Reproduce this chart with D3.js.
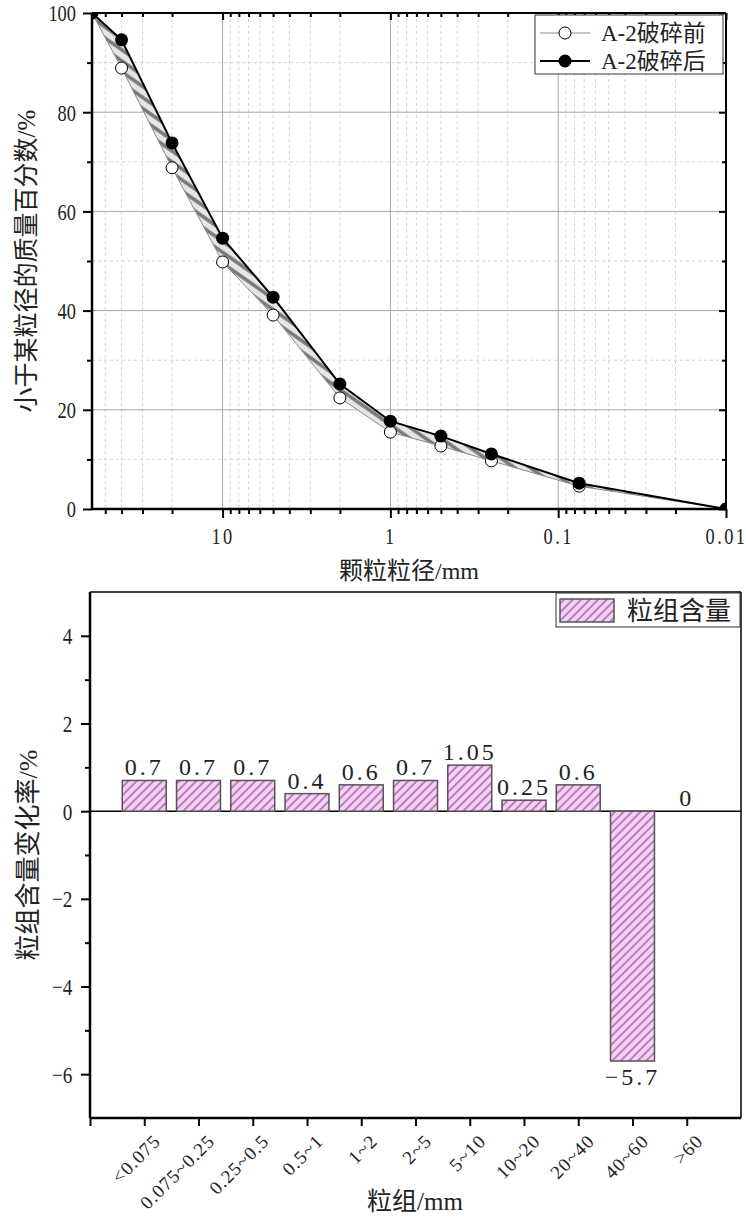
<!DOCTYPE html>
<html lang="zh">
<head>
<meta charset="UTF-8" />
<script src="https://d3js.org/d3.v7.min.js"></script>
<style>
  body { margin: 0; background: #fff; }
  svg text { font-family: "Liberation Serif", "DejaVu Serif", "Noto Sans CJK SC", serif; fill: #222; }
  .cjk { font-family: "Liberation Serif", "Noto Sans CJK SC", sans-serif; }
</style>
</head>
<body>
<script>
// grading curve (top)
const sizes = [60, 40, 20, 10, 5, 2, 1, 0.5, 0.25, 0.075, 0.01]
const before = [100, 88.9, 68.8, 49.8, 39.1, 22.4, 15.5, 12.7, 9.7, 4.6, 0]
const after = [100, 94.6, 73.8, 54.6, 42.7, 25.2, 17.7, 14.7, 11.1, 5.2, 0]
const seriesNames = ['A-2破碎前', 'A-2破碎后']
const xMajor = [10, 1, 0.1, 0.01]
const xMajorLabels = ['10', '1', '0.1', '0.01']
const yTicksTop = [0, 20, 40, 60, 80, 100]

// group content change (bottom)
const groups = ['<0.075', '0.075~0.25', '0.25~0.5', '0.5~1', '1~2', '2~5', '5~10', '10~20', '20~40', '40~60', '>60']
const change = [0.7, 0.7, 0.7, 0.4, 0.6, 0.7, 1.05, 0.25, 0.6, -5.7, 0]
const changeLabels = ['0.7', '0.7', '0.7', '0.4', '0.6', '0.7', '1.05', '0.25', '0.6', '-5.7', '0']
const yTicksBottom = [-6, -4, -2, 0, 2, 4]
const barName = '粒组含量'

const W = 746, H = 1219
const svg = d3.select('body').append('svg').attr('width', W).attr('height', H)
const defs = svg.append('defs')

// hatch patterns
const p1 = defs.append('pattern').attr('id', 'bandHatch').attr('patternUnits', 'userSpaceOnUse')
  .attr('width', 9).attr('height', 9).attr('patternTransform', 'rotate(-55)')
p1.append('rect').attr('width', 9).attr('height', 9).attr('fill', '#e6e6e6')
p1.append('line').attr('x1', 2).attr('y1', 0).attr('x2', 2).attr('y2', 9).attr('stroke', '#777').attr('stroke-width', 3.5)

const p2 = defs.append('pattern').attr('id', 'barHatch').attr('patternUnits', 'userSpaceOnUse')
  .attr('width', 6).attr('height', 6).attr('patternTransform', 'rotate(45)')
p2.append('rect').attr('width', 6).attr('height', 6).attr('fill', '#fccdfc')
p2.append('line').attr('x1', 1).attr('y1', 0).attr('x2', 1).attr('y2', 6).attr('stroke', '#8a6a8a').attr('stroke-width', 1.4)

// ---------------- top chart ----------------
const t = { left: 92, right: 726, top: 13, bottom: 509 }
const x = d3.scaleLog().domain([60, 0.01]).range([t.left, t.right])
const y = d3.scaleLinear().domain([0, 100]).range([t.bottom, t.top])

const minorX = []
for (let d = -2; d <= 1; d++) {
  for (let k = 2; k <= 9; k++) {
    const v = k * Math.pow(10, d)
    if (v > 0.01 && v < 60) minorX.push(v)
  }
}
const minorY = [10, 30, 50, 70, 90]

defs.append('clipPath').attr('id', 'clipTop').append('rect')
  .attr('x', t.left).attr('y', t.top).attr('width', t.right - t.left).attr('height', t.bottom - t.top)

const gTop = svg.append('g')
// grid
gTop.selectAll('.mgx').data(minorX).join('line')
  .attr('x1', d => x(d)).attr('x2', d => x(d)).attr('y1', t.top).attr('y2', t.bottom)
  .attr('stroke', '#d4d4d4').attr('stroke-dasharray', '3 3')
gTop.selectAll('.mgy').data(minorY).join('line')
  .attr('y1', d => y(d)).attr('y2', d => y(d)).attr('x1', t.left).attr('x2', t.right)
  .attr('stroke', '#d4d4d4').attr('stroke-dasharray', '3 3')
gTop.selectAll('.gx').data([10, 1, 0.1]).join('line')
  .attr('x1', d => x(d)).attr('x2', d => x(d)).attr('y1', t.top).attr('y2', t.bottom)
  .attr('stroke', '#a8a8a8')
gTop.selectAll('.gy').data([20, 40, 60, 80]).join('line')
  .attr('y1', d => y(d)).attr('y2', d => y(d)).attr('x1', t.left).attr('x2', t.right)
  .attr('stroke', '#a8a8a8')

const pts = sizes.map((s, i) => ({ s, b: before[i], a: after[i] }))
const plot = gTop.append('g').attr('clip-path', 'url(#clipTop)')
plot.append('path').datum(pts)
  .attr('d', d3.area().x(d => x(d.s)).y0(d => y(d.b)).y1(d => y(d.a)))
  .attr('fill', 'url(#bandHatch)')
plot.append('path').datum(pts)
  .attr('d', d3.line().x(d => x(d.s)).y(d => y(d.b)))
  .attr('fill', 'none').attr('stroke', '#8a8a8a').attr('stroke-width', 1)
plot.append('path').datum(pts)
  .attr('d', d3.line().x(d => x(d.s)).y(d => y(d.a)))
  .attr('fill', 'none').attr('stroke', '#000').attr('stroke-width', 2)
plot.selectAll('.ob').data(pts).join('circle')
  .attr('cx', d => x(d.s)).attr('cy', d => y(d.b)).attr('r', 6)
  .attr('fill', '#fff').attr('stroke', '#000').attr('stroke-width', 1)
plot.selectAll('.oa').data(pts).join('circle')
  .attr('cx', d => x(d.s)).attr('cy', d => y(d.a)).attr('r', 6.5)
  .attr('fill', '#000')

// axes
const axB = gTop.append('g').attr('transform', `translate(0,${t.bottom})`)
axB.call(d3.axisBottom(x).tickValues(xMajor).tickSize(9).tickFormat((d, i) => xMajorLabels[i]))
axB.append('g').call(d3.axisBottom(x).tickValues(minorX).tickSize(5).tickFormat(''))
const axT = gTop.append('g').attr('transform', `translate(0,${t.top})`)
axT.call(d3.axisBottom(x).tickValues(xMajor).tickSize(7).tickFormat(''))
axT.append('g').call(d3.axisBottom(x).tickValues(minorX).tickSize(4).tickFormat(''))
const axL = gTop.append('g').attr('transform', `translate(${t.left},0)`)
axL.call(d3.axisLeft(y).tickValues(yTicksTop).tickSize(9).tickFormat(d3.format('d')))
axL.append('g').call(d3.axisLeft(y).tickValues(minorY).tickSize(5).tickFormat(''))
const axR = gTop.append('g').attr('transform', `translate(${t.right},0)`)
axR.call(d3.axisLeft(y).tickValues(yTicksTop).tickSize(7).tickFormat(''))
axR.append('g').call(d3.axisLeft(y).tickValues(minorY).tickSize(4).tickFormat(''))

gTop.selectAll('.domain').remove()
gTop.selectAll('.tick line').attr('stroke', '#000').attr('stroke-width', 2)
// tall narrow numerals
axB.selectAll('.tick text').style('font-size', '23px').attr('letter-spacing', 3)
  .attr('transform', 'scale(0.8,1)').attr('dy', '1.0em')
axL.selectAll('.tick text').style('font-size', '23px').attr('x', -20)
  .attr('transform', 'scale(0.8,1)').attr('dy', '0.34em')

gTop.append('line').attr('x1', t.left).attr('x2', t.right).attr('y1', t.bottom).attr('y2', t.bottom).attr('stroke', '#000').attr('stroke-width', 2.5)
gTop.append('line').attr('x1', t.left).attr('x2', t.left).attr('y1', t.top).attr('y2', t.bottom).attr('stroke', '#000').attr('stroke-width', 2.5)
gTop.append('line').attr('x1', t.left).attr('x2', t.right).attr('y1', t.top).attr('y2', t.top).attr('stroke', '#000').attr('stroke-width', 2)
gTop.append('line').attr('x1', t.right).attr('x2', t.right).attr('y1', t.top).attr('y2', t.bottom).attr('stroke', '#000').attr('stroke-width', 2)

gTop.append('text').attr('class', 'cjk').attr('x', 409).attr('y', 579).attr('text-anchor', 'middle')
  .style('font-size', '24px').text('颗粒粒径/mm')
gTop.append('text').attr('class', 'cjk').attr('transform', 'translate(35,261) rotate(-90)')
  .attr('text-anchor', 'middle').style('font-size', '25px').text('小于某粒径的质量百分数/%')

// legend
const lg = gTop.append('g')
lg.append('rect').attr('x', 535).attr('y', 15).attr('width', 188).attr('height', 59)
  .attr('fill', '#fff').attr('stroke', '#333').attr('stroke-width', 1)
const lgY = [33, 61]
lg.append('line').attr('x1', 540).attr('x2', 590).attr('y1', lgY[0]).attr('y2', lgY[0]).attr('stroke', '#8a8a8a')
lg.append('circle').attr('cx', 565).attr('cy', lgY[0]).attr('r', 6).attr('fill', '#fff').attr('stroke', '#000')
lg.append('line').attr('x1', 540).attr('x2', 590).attr('y1', lgY[1]).attr('y2', lgY[1]).attr('stroke', '#000').attr('stroke-width', 2)
lg.append('circle').attr('cx', 565).attr('cy', lgY[1]).attr('r', 6.5).attr('fill', '#000')
lg.selectAll('.lt').data(seriesNames).join('text').attr('class', 'cjk')
  .attr('x', 601).attr('y', (d, i) => lgY[i] + 8).style('font-size', '23px').text(d => d)

// ---------------- bottom chart ----------------
const b = { left: 90, right: 741, top: 592, bottom: 1118 }
const xb = d3.scaleLinear().domain([0, 12]).range([b.left, b.right])
const yb = d3.scaleLinear().domain([-7, 5]).range([b.bottom, b.top])
const gB = svg.append('g')
const bw = 0.81

gB.append('line').attr('x1', b.left).attr('x2', b.right).attr('y1', yb(0)).attr('y2', yb(0))
  .attr('stroke', '#000').attr('stroke-width', 1.5)

const bars = groups.map((g, i) => ({ g, v: change[i], lab: changeLabels[i], pos: i + 1 }))
gB.selectAll('.bar').data(bars.filter(d => d.v !== 0)).join('rect')
  .attr('x', d => xb(d.pos - bw / 2)).attr('width', xb(bw) - xb(0))
  .attr('y', d => yb(Math.max(0, d.v))).attr('height', d => Math.abs(yb(d.v) - yb(0)))
  .attr('fill', 'url(#barHatch)').attr('stroke', '#555').attr('stroke-width', 1.5)
gB.selectAll('.vl').data(bars).join('text')
  .attr('x', d => xb(d.pos)).attr('y', d => d.v >= 0 ? yb(d.v) - 5 : yb(d.v) + 24)
  .attr('text-anchor', 'middle').style('font-size', '24px').attr('letter-spacing', 3)
  .text(d => d.lab.replace('-', '−'))

const axBL = gB.append('g').attr('transform', `translate(${b.left},0)`)
axBL.call(d3.axisLeft(yb).tickValues(yTicksBottom).tickSize(9).tickFormat(d => String(d).replace('-', '−')))
axBL.append('g').call(d3.axisLeft(yb).tickValues([-5, -3, -1, 1, 3]).tickSize(5).tickFormat(''))
const axBB = gB.append('g').attr('transform', `translate(0,${b.bottom})`)
axBB.call(d3.axisBottom(xb).tickValues(d3.range(0, 12)).tickSize(8).tickFormat(''))
gB.selectAll('.domain').remove()
gB.selectAll('.tick line').attr('stroke', '#000').attr('stroke-width', 2)
axBL.selectAll('.tick text').style('font-size', '24px').attr('x', -22)
  .attr('transform', 'scale(0.8,1)').attr('dy', '0.34em')

gB.selectAll('.xl').data(bars).join('text')
  .attr('transform', d => `translate(${xb(d.pos) + 8},${b.bottom + 15}) rotate(-45)`)
  .attr('text-anchor', 'end').attr('dy', '0.7em').style('font-size', '19px').attr('letter-spacing', 1)
  .text(d => d.g)

gB.append('line').attr('x1', b.left).attr('x2', b.right).attr('y1', b.bottom).attr('y2', b.bottom).attr('stroke', '#000').attr('stroke-width', 2.5)
gB.append('line').attr('x1', b.left).attr('x2', b.left).attr('y1', b.top).attr('y2', b.bottom).attr('stroke', '#000').attr('stroke-width', 2.5)
gB.append('line').attr('x1', b.left).attr('x2', b.right).attr('y1', b.top).attr('y2', b.top).attr('stroke', '#000').attr('stroke-width', 1.5)
gB.append('line').attr('x1', b.right).attr('x2', b.right).attr('y1', b.top).attr('y2', b.bottom).attr('stroke', '#000').attr('stroke-width', 1.5)

gB.append('text').attr('class', 'cjk').attr('x', 415).attr('y', 1210).attr('text-anchor', 'middle')
  .style('font-size', '25px').text('粒组/mm')
gB.append('text').attr('class', 'cjk').attr('transform', 'translate(37,855) rotate(-90)')
  .attr('text-anchor', 'middle').style('font-size', '26px').text('粒组含量变化率/%')

const bl = gB.append('g')
bl.append('rect').attr('x', 556).attr('y', 593).attr('width', 184).attr('height', 34)
  .attr('fill', '#fff').attr('stroke', '#333').attr('stroke-width', 1)
bl.append('rect').attr('x', 560).attr('y', 599).attr('width', 54).attr('height', 23)
  .attr('fill', 'url(#barHatch)').attr('stroke', '#555').attr('stroke-width', 1.5)
bl.append('text').attr('class', 'cjk').attr('x', 627).attr('y', 620).style('font-size', '26px').text(barName)
</script>
</body>
</html>
